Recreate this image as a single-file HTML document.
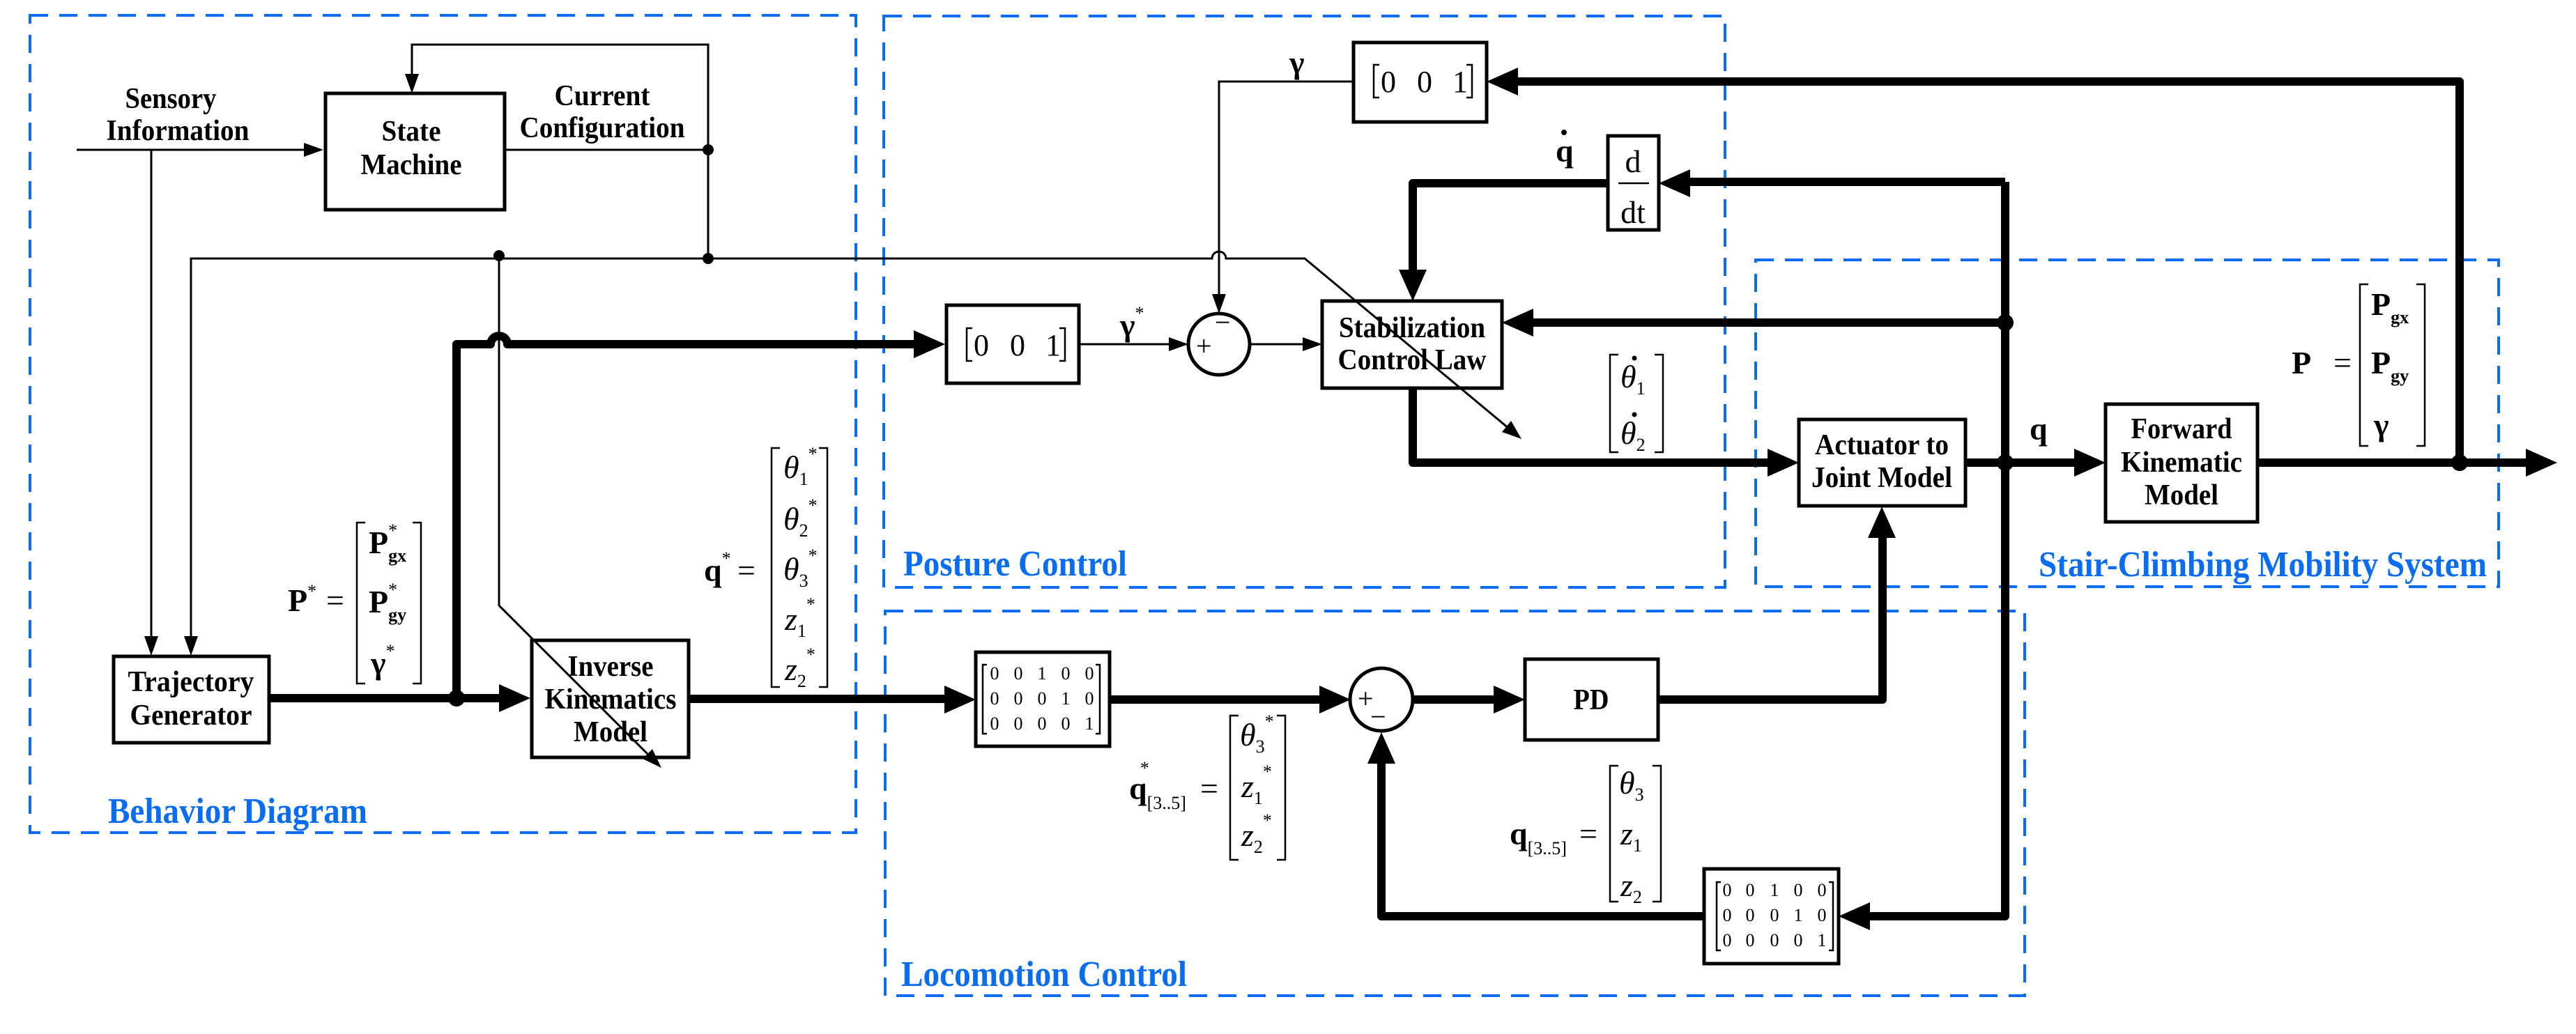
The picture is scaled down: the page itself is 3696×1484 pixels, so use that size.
<!DOCTYPE html>
<html><head><meta charset="utf-8"><style>
html,body{margin:0;padding:0;background:#fff;}
svg{display:block;}
text{font-family:"Liberation Serif",serif;fill:#000;}
.n{font-weight:bold;font-size:42px;}
.lab{font-weight:bold;font-size:52px;fill:#0a6cf0;}
.m{font-size:44px;}
.d{font-size:26px;}
</style></head><body>
<svg width="3696" height="1484" viewBox="0 0 3696 1484" xmlns="http://www.w3.org/2000/svg">
<g fill="none" stroke="#0a6cf0" stroke-width="4" stroke-dasharray="26,16">
<rect x="43" y="22" width="1185" height="1173"/>
<rect x="1268" y="23" width="1207" height="820"/>
<rect x="2519" y="373" width="1066" height="469"/>
<rect x="1270" y="877" width="1635" height="552"/>
</g>
<text class="lab" x="155" y="1181" textLength="372" lengthAdjust="spacingAndGlyphs">Behavior Diagram</text>
<text class="lab" x="1296" y="826" textLength="321" lengthAdjust="spacingAndGlyphs">Posture Control</text>
<text class="lab" x="2925" y="827" textLength="643" lengthAdjust="spacingAndGlyphs">Stair-Climbing Mobility System</text>
<text class="lab" x="1293" y="1415" textLength="410" lengthAdjust="spacingAndGlyphs">Locomotion Control</text>

<g fill="#fff" stroke="#000" stroke-width="5">
<rect x="467" y="134" width="257" height="167"/>
<rect x="163" y="942" width="223" height="124"/>
<rect x="763" y="919" width="225" height="168"/>
<rect x="1358" y="438" width="190" height="112"/>
<rect x="1942" y="61" width="191" height="114"/>
<rect x="2307" y="195" width="73" height="135"/>
<rect x="1897" y="432" width="258" height="125"/>
<rect x="2581" y="602" width="239" height="124"/>
<rect x="3021" y="580" width="218" height="169"/>
<rect x="1400" y="936" width="192" height="135"/>
<rect x="2188" y="946" width="191" height="116"/>
<rect x="2445" y="1247" width="193" height="136"/>
<circle cx="1749" cy="494" r="44"/>
<circle cx="1982" cy="1004" r="45"/>
</g>

<g fill="none" stroke="#000" stroke-width="3">
<path d="M110 215 H440"/>
<path d="M217 215 V915"/>
<path d="M724 215 H1016"/>
<path d="M1016 215 V64 H591 V108"/>
<path d="M1016 215 V371"/>
<path d="M274 915 V371 H1739 A10 10 0 0 1 1759 371 H1872 L2165 615"/>
<path d="M716 367 V869 L931 1084"/>
<path d="M1942 117 H1749 V422"/>
<path d="M1548 494 H1677"/>
<path d="M1793 494 H1869"/>
</g>
<g fill="#000">
<polygon points="464,215 436,205 436,225"/>
<polygon points="217,941 207,913 227,913"/>
<polygon points="274,941 264,913 284,913"/>
<polygon points="591,134 581,106 601,106"/>
<polygon points="949,1102 922,1089 936,1075"/>
<polygon points="2183,630 2155,620 2168,604"/>
<polygon points="1749,450 1739,422 1759,422"/>
<polygon points="1705,494 1677,484 1677,504"/>
<polygon points="1897,494 1869,484 1869,504"/>
<circle cx="1016" cy="215" r="8"/>
<circle cx="1016" cy="371" r="8"/>
<circle cx="716" cy="367" r="8"/>
</g>

<g fill="none" stroke="#000" stroke-width="12" stroke-linejoin="round">
<path d="M386 1002 H720"/>
<path d="M655 1002 V494 H704 A12 12 0 0 1 728 494 H1315"/>
<path d="M988 1003 H1358"/>
<path d="M1592 1004 H1895"/>
<path d="M2026 1004 H2145"/>
<path d="M2379 1004 H2701 V770"/>
<path d="M2877 261 V1315 H2680"/>
<path d="M2445 1315 H1982 V1095"/>
<path d="M2877 261 H2425"/>
<path d="M2307 263 H2027 V390"/>
<path d="M2877 463 H2200"/>
<path d="M2027 557 V664 H2538"/>
<path d="M2820 664 H2978"/>
<path d="M3239 664 H3625"/>
<path d="M3529 664 V117 H2178"/>
</g>
<g fill="#000">
<polygon points="761,1002 716,982 716,1022"/>
<polygon points="1356,494 1311,474 1311,514"/>
<polygon points="1400,1004 1355,984 1355,1024"/>
<polygon points="1938,1004 1893,984 1893,1024"/>
<polygon points="2188,1004 2143,984 2143,1024"/>
<polygon points="2700,727 2680,772 2720,772"/>
<polygon points="2638,1315 2683,1295 2683,1335"/>
<polygon points="1982,1051 1962,1096 2002,1096"/>
<polygon points="2380,263 2425,243 2425,283"/>
<polygon points="2027,432 2007,387 2047,387"/>
<polygon points="2155,463 2200,443 2200,483"/>
<polygon points="2581,664 2536,644 2536,684"/>
<polygon points="3021,664 2976,644 2976,684"/>
<polygon points="3669,664 3624,644 3624,684"/>
<polygon points="2133,117 2178,97 2178,137"/>
<circle cx="655" cy="1002" r="12"/>
<circle cx="2877" cy="463" r="12"/>
<circle cx="2877" cy="664" r="12"/>
<circle cx="3529" cy="664" r="12"/>
</g>

<g class="n" text-anchor="middle">
<text x="245" y="155" textLength="131" lengthAdjust="spacingAndGlyphs">Sensory</text>
<text x="255" y="201" textLength="205" lengthAdjust="spacingAndGlyphs">Information</text>
<text x="590" y="202" textLength="85" lengthAdjust="spacingAndGlyphs">State</text>
<text x="590" y="250" textLength="145" lengthAdjust="spacingAndGlyphs">Machine</text>
<text x="864" y="151" textLength="137" lengthAdjust="spacingAndGlyphs">Current</text>
<text x="864" y="197" textLength="237" lengthAdjust="spacingAndGlyphs">Configuration</text>
<text x="274" y="992" textLength="181" lengthAdjust="spacingAndGlyphs">Trajectory</text>
<text x="274" y="1040" textLength="175" lengthAdjust="spacingAndGlyphs">Generator</text>
<text x="876" y="970" textLength="123" lengthAdjust="spacingAndGlyphs">Inverse</text>
<text x="876" y="1017" textLength="189" lengthAdjust="spacingAndGlyphs">Kinematics</text>
<text x="876" y="1064" textLength="106" lengthAdjust="spacingAndGlyphs">Model</text>
<text x="2026" y="484" textLength="210" lengthAdjust="spacingAndGlyphs">Stabilization</text>
<text x="2026" y="530" textLength="213" lengthAdjust="spacingAndGlyphs">Control Law</text>
<text x="2700" y="652" textLength="192" lengthAdjust="spacingAndGlyphs">Actuator to</text>
<text x="2700" y="699" textLength="202" lengthAdjust="spacingAndGlyphs">Joint Model</text>
<text x="3130" y="629" textLength="145" lengthAdjust="spacingAndGlyphs">Forward</text>
<text x="3130" y="677" textLength="174" lengthAdjust="spacingAndGlyphs">Kinematic</text>
<text x="3130" y="724" textLength="106" lengthAdjust="spacingAndGlyphs">Model</text>
<text x="2283" y="1018" textLength="51" lengthAdjust="spacingAndGlyphs">PD</text>
</g>

<g font-size="40">
<text x="1716" y="510">+</text><text x="1743" y="476">−</text>
<text x="1948" y="1016">+</text><text x="1966" y="1042">−</text>
</g>

<g fill="none" stroke="#000" stroke-width="2.5">
<path d="M524 750 H512 V981 H524 M592 750 H604 V981 H592"/>
<path d="M1119 643 H1107 V986 H1119 M1175 643 H1187 V986 H1175"/>
<path d="M1777 1027 H1765 V1234 H1777 M1832 1027 H1844 V1234 H1832"/>
<path d="M2322 1099 H2310 V1294 H2322 M2371 1099 H2383 V1294 H2371"/>
<path d="M2322 509 H2310 V649 H2322 M2374 509 H2386 V649 H2374"/>
<path d="M3398 408 H3386 V640 H3398 M3467 408 H3479 V640 H3467"/>
<path d="M1395 471 H1387 V518 H1395 M1520 471 H1528 V518 H1520"/>
<path d="M1979 93 H1971 V140 H1979 M2104 93 H2112 V140 H2104"/>
<path d="M1416 954 H1410 V1053 H1416 M1572 954 H1578 V1053 H1572"/>
<path d="M2469 1266 H2463 V1364 H2469 M2624 1266 H2630 V1364 H2624"/>
</g>

<g class="m" text-anchor="middle">
<text x="1408" y="510">0</text><text x="1460" y="510">0</text><text x="1511" y="510">1</text>
<text x="1992" y="132">0</text><text x="2044" y="132">0</text><text x="2095" y="132">1</text>
</g>
<g class="d" text-anchor="middle">
<text x="1427" y="975">0</text><text x="1461" y="975">0</text><text x="1495" y="975">1</text><text x="1529" y="975">0</text><text x="1563" y="975">0</text>
<text x="1427" y="1011">0</text><text x="1461" y="1011">0</text><text x="1495" y="1011">0</text><text x="1529" y="1011">1</text><text x="1563" y="1011">0</text>
<text x="1427" y="1047">0</text><text x="1461" y="1047">0</text><text x="1495" y="1047">0</text><text x="1529" y="1047">0</text><text x="1563" y="1047">1</text>
<text x="2478" y="1286">0</text><text x="2511" y="1286">0</text><text x="2546" y="1286">1</text><text x="2580" y="1286">0</text><text x="2614" y="1286">0</text>
<text x="2478" y="1322">0</text><text x="2511" y="1322">0</text><text x="2546" y="1322">0</text><text x="2580" y="1322">1</text><text x="2614" y="1322">0</text>
<text x="2478" y="1358">0</text><text x="2511" y="1358">0</text><text x="2546" y="1358">0</text><text x="2580" y="1358">0</text><text x="2614" y="1358">1</text>
</g>

<g font-size="46">
<text x="413" y="877" font-weight="bold">P<tspan dy="-20" font-size="26" font-weight="normal">*</tspan></text>
<text x="468" y="877">=</text>
<text x="529" y="794" font-weight="bold">P<tspan dy="12" font-size="26">gx</tspan><tspan dx="-26" dy="-36" font-size="26" font-weight="normal">*</tspan></text>
<text x="529" y="879" font-weight="bold">P<tspan dy="12" font-size="26">gy</tspan><tspan dx="-26" dy="-36" font-size="26" font-weight="normal">*</tspan></text>
<text x="532" y="967" font-weight="bold">γ<tspan dy="-24" font-size="26" font-weight="normal">*</tspan></text>

<text x="1010" y="834" font-weight="bold">q<tspan dy="-24" font-size="26" font-weight="normal">*</tspan></text>
<text x="1058" y="834">=</text>
<text x="1124" y="686" font-style="italic">θ<tspan dy="10" font-size="26" font-style="normal">1</tspan><tspan dy="-36" font-size="26" font-style="normal">*</tspan></text>
<text x="1124" y="760" font-style="italic">θ<tspan dy="10" font-size="26" font-style="normal">2</tspan><tspan dy="-36" font-size="26" font-style="normal">*</tspan></text>
<text x="1124" y="832" font-style="italic">θ<tspan dy="10" font-size="26" font-style="normal">3</tspan><tspan dy="-36" font-size="26" font-style="normal">*</tspan></text>
<text x="1126" y="904" font-style="italic">z<tspan dy="10" font-size="26" font-style="normal">1</tspan><tspan dy="-38" font-size="26" font-style="normal">*</tspan></text>
<text x="1126" y="976" font-style="italic">z<tspan dy="10" font-size="26" font-style="normal">2</tspan><tspan dy="-38" font-size="26" font-style="normal">*</tspan></text>

<text x="1620" y="1147" font-weight="bold">q<tspan dy="14" font-size="26" font-weight="normal">[3..5]</tspan><tspan dx="-66" dy="-50" font-size="26" font-weight="normal">*</tspan></text>
<text x="1722" y="1147">=</text>
<text x="1779" y="1070" font-style="italic">θ<tspan dy="10" font-size="26" font-style="normal">3</tspan><tspan dy="-36" font-size="26" font-style="normal">*</tspan></text>
<text x="1781" y="1144" font-style="italic">z<tspan dy="10" font-size="26" font-style="normal">1</tspan><tspan dy="-38" font-size="26" font-style="normal">*</tspan></text>
<text x="1781" y="1214" font-style="italic">z<tspan dy="10" font-size="26" font-style="normal">2</tspan><tspan dy="-38" font-size="26" font-style="normal">*</tspan></text>

<text x="2166" y="1212" font-weight="bold">q<tspan dy="14" font-size="26" font-weight="normal">[3..5]</tspan></text>
<text x="2266" y="1212">=</text>
<text x="2323" y="1139" font-style="italic">θ<tspan dy="10" font-size="26" font-style="normal">3</tspan></text>
<text x="2325" y="1212" font-style="italic">z<tspan dy="10" font-size="26" font-style="normal">1</tspan></text>
<text x="2325" y="1286" font-style="italic">z<tspan dy="10" font-size="26" font-style="normal">2</tspan></text>

<text x="2325" y="556" font-style="italic">θ<tspan dy="10" font-size="26" font-style="normal">1</tspan></text>
<text x="2325" y="637" font-style="italic">θ<tspan dy="10" font-size="26" font-style="normal">2</tspan></text>

<text x="3288" y="536" font-weight="bold">P</text>
<text x="3348" y="536">=</text>
<text x="3402" y="452" font-weight="bold">P<tspan dy="12" font-size="26">gx</tspan></text>
<text x="3402" y="536" font-weight="bold">P<tspan dy="12" font-size="26">gy</tspan></text>
<text x="3406" y="625" font-weight="bold">γ</text>

<text x="1607" y="482" font-weight="bold">γ<tspan dy="-24" font-size="26" font-weight="normal">*</tspan></text>
<text x="1850" y="105" font-weight="bold">γ</text>
<text x="2232" y="232" font-weight="bold">q</text>
<text x="2912" y="631" font-weight="bold">q</text>

<text x="2343" y="247" text-anchor="middle">d</text>
<text x="2343" y="320" text-anchor="middle">dt</text>
</g>
<g fill="#000">
<circle cx="2345" cy="514" r="3.5"/>
<circle cx="2345" cy="595" r="3.5"/>
<circle cx="2244" cy="190" r="4"/>
</g>
<line x1="2322" y1="263" x2="2366" y2="263" stroke="#000" stroke-width="2.5"/>
</svg>
</body></html>
